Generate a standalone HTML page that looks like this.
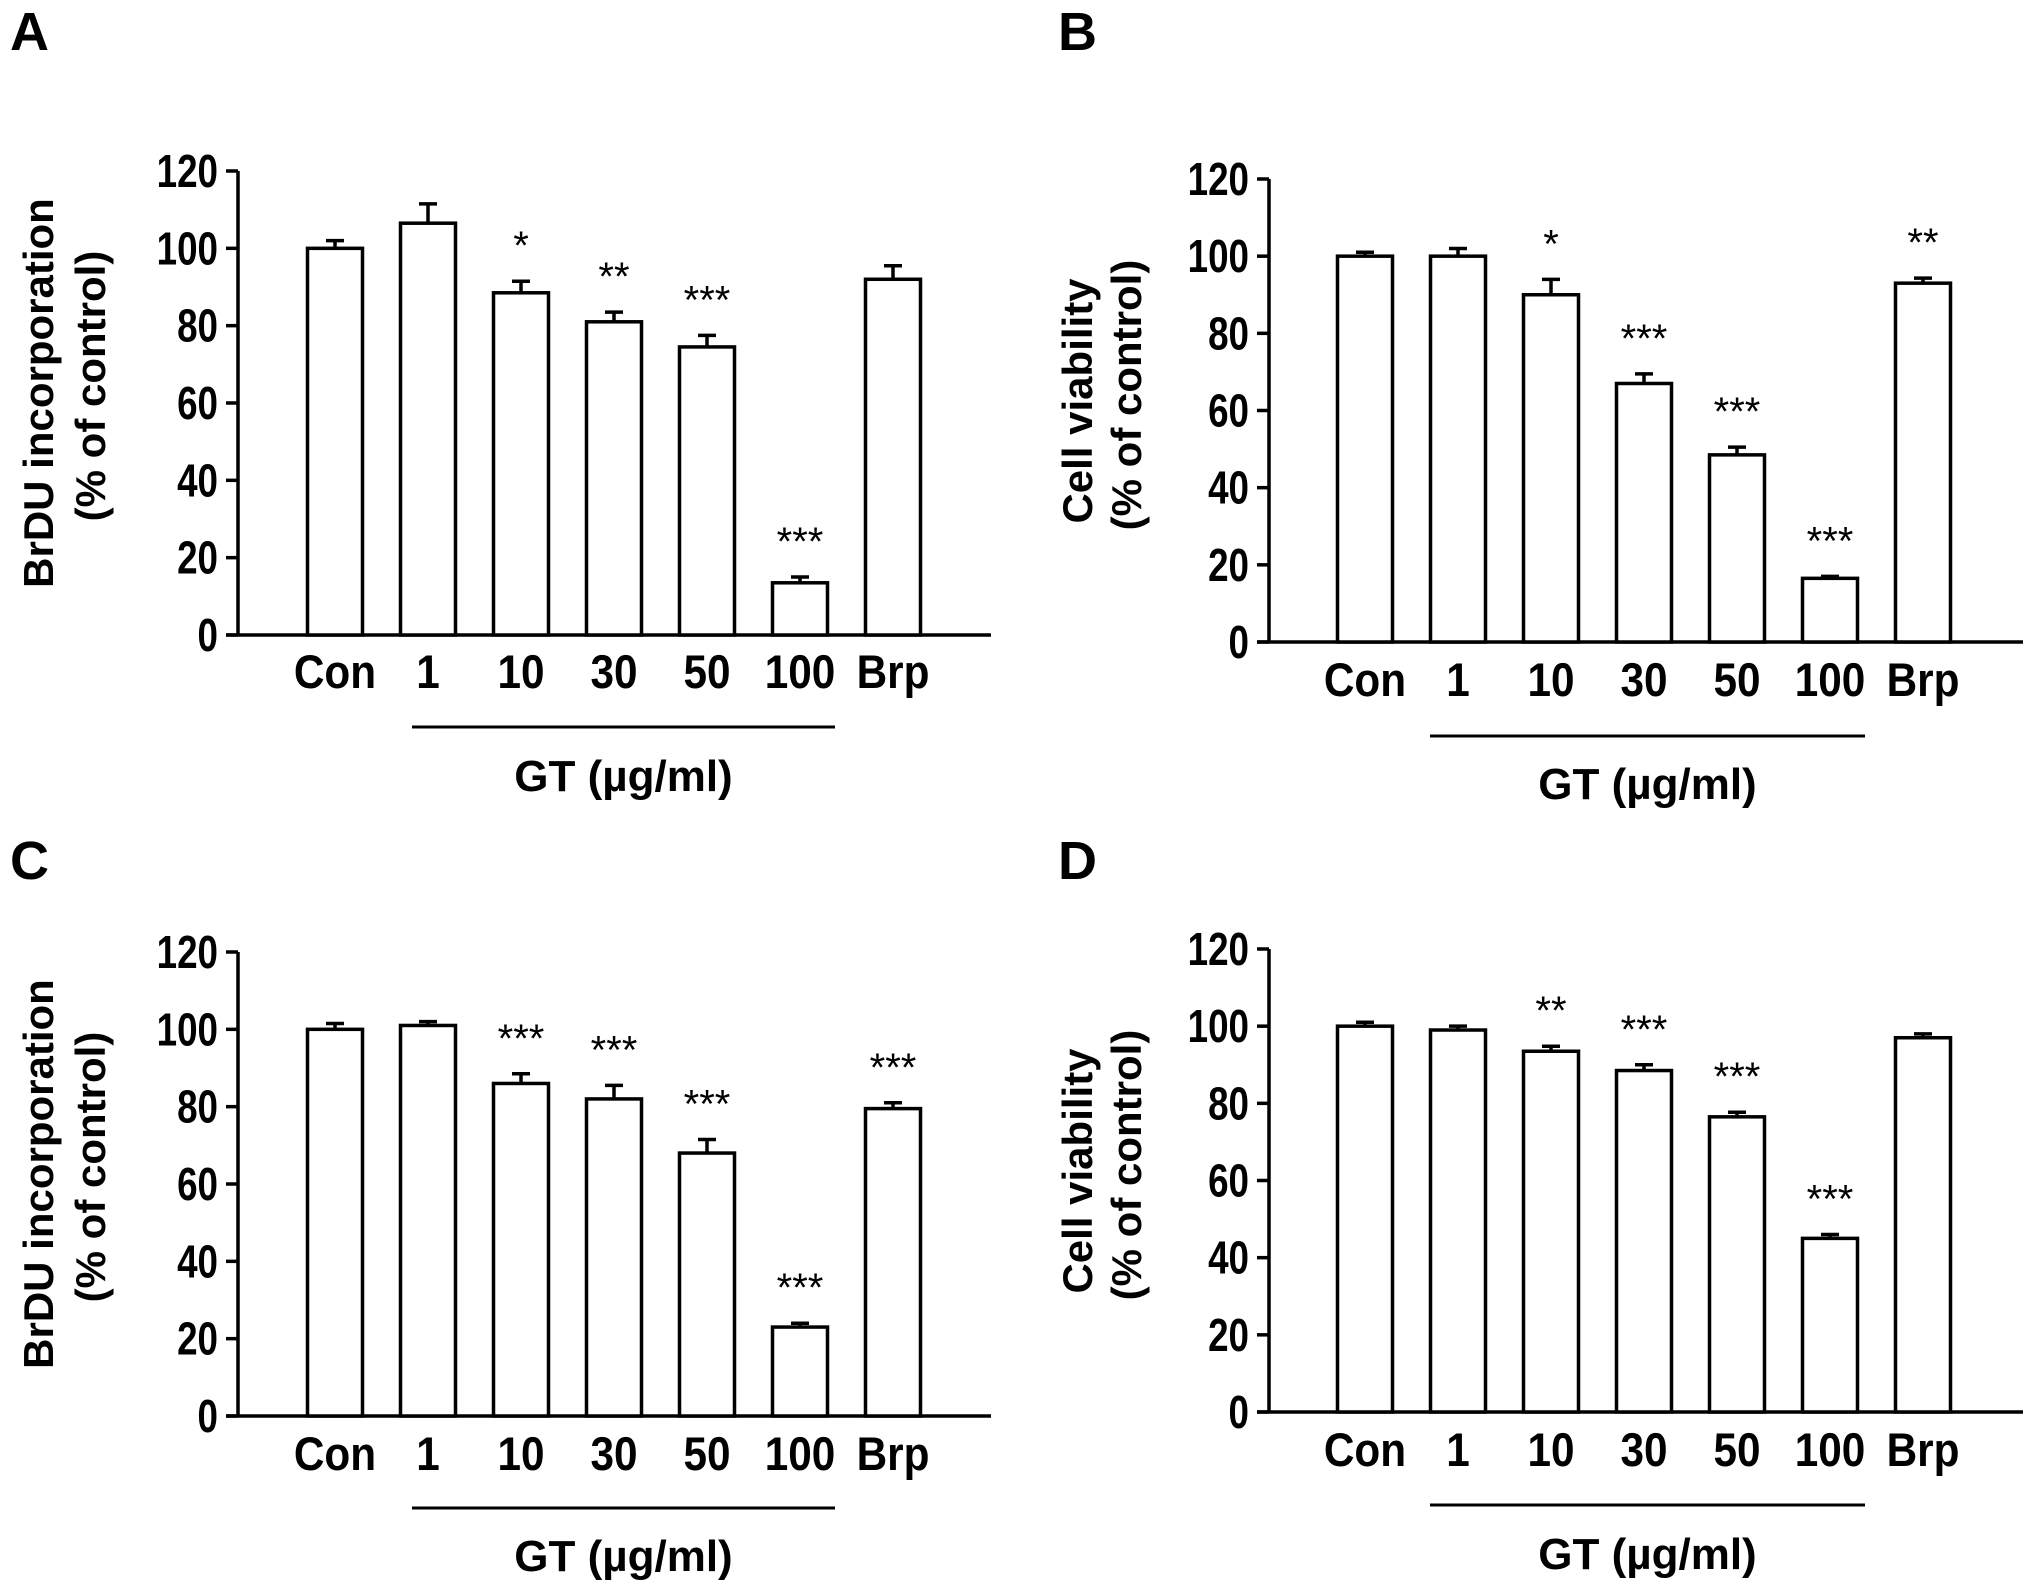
<!DOCTYPE html>
<html><head><meta charset="utf-8"><style>
html,body{margin:0;padding:0;background:#fff;}
svg{display:block;}
text{font-family:"Liberation Sans",Arial,sans-serif;fill:#000;}
</style></head><body>
<svg id="fig" width="2031" height="1593" viewBox="0 0 2031 1593"></svg>
<script>
const categories = ["Con","1","10","30","50","100","Brp"];
const yTicks = [0,20,40,60,80,100,120];
const valuesA = [100,106.5,88.5,81,74.5,13.5,92];
const errorsA = [2,5,3,2.5,3,1.5,3.5];
const starsA = ["","","*","**","***","***",""];
const valuesB = [100,100,90,67,48.5,16.5,93];
const errorsB = [1,2,4,2.5,2,0.5,1.3];
const starsB = ["","","*","***","***","***","**"];
const valuesC = [100,101,86,82,68,23,79.5];
const errorsC = [1.5,1,2.5,3.5,3.5,1,1.5];
const starsC = ["","","***","***","***","***","***"];
const valuesD = [100,99,93.5,88.5,76.5,45,97];
const errorsD = [1,1,1.3,1.5,1.2,1,1];
const starsD = ["","","**","***","***","***",""];

const NS = "http://www.w3.org/2000/svg";
const svg = document.getElementById("fig");
function mk(tag, attrs, parent, txt){
  const e = document.createElementNS(NS, tag);
  for (const k in attrs) e.setAttribute(k, attrs[k]);
  if (txt !== undefined) e.textContent = txt;
  (parent||svg).appendChild(e);
  return e;
}

function panel(cfg){
  const g = mk("g", {});
  
  
  const y0 = cfg.y0, y120 = cfg.y120;
  const yScale = v => y0 - (v/120)*(y0-y120);
  const xScale = i => cfg.firstX + i*cfg.step;

  const lt = mk("text", {x:cfg.lx, y:cfg.ly, "font-size":54, "font-weight":"bold"}, g, cfg.letter);
  
  

  const t1 = mk("text", {x:0, y:0, "font-size":42, "font-weight":"bold", "text-anchor":"middle",
    transform:`translate(${cfg.t1x},${cfg.t1y}) rotate(-90)`}, g, cfg.title1);
  
  
  const t2 = mk("text", {x:0, y:0, "font-size":42, "font-weight":"bold", "text-anchor":"middle",
    transform:`translate(${cfg.t2x},${cfg.t2y}) rotate(-90)`}, g, "(% of control)");
  
  

  const ya = mk("line", {x1:cfg.ax, y1:yScale(120), x2:cfg.ax, y2:y0+1.5, stroke:"#000","stroke-width":3.5}, g);
  
  
  const xa = mk("line", {x1:cfg.ax-12, y1:y0, x2:cfg.axEnd, y2:y0, stroke:"#000","stroke-width":3.5}, g);
  
  

  yTicks.forEach(v => {
    const y = yScale(v);
    const tk = mk("line", {x1:cfg.ax-12, y1:y, x2:cfg.ax, y2:y, stroke:"#000","stroke-width":3.5}, g);
    
    
    const tl = mk("text", {"font-size":46, "font-weight":"bold", "text-anchor":"end",
      transform:`translate(${cfg.ax-20},${y+16}) scale(0.8,1)`}, g, String(v));
    
    
  });

  const bw = 55;
  categories.forEach((c,i) => {
    const cx = xScale(i);
    const v = cfg.values[i], e = cfg.errors[i];
    const top = yScale(v), etop = yScale(v+e);
    const eb = mk("line", {x1:cx, y1:top, x2:cx, y2:etop, stroke:"#000","stroke-width":3.5}, g);
    
    
    const cap = mk("line", {x1:cx-9, y1:etop, x2:cx+9, y2:etop, stroke:"#000","stroke-width":3.5}, g);
    
    
    const r = mk("rect", {x:cx-bw/2, y:top, width:bw, height:y0-top, fill:"#fff", stroke:"#000","stroke-width":3.5}, g);
    
    
    if (cfg.stars[i]) {
      const s = mk("text", {x:cx, y:etop-22, "font-size":40, "text-anchor":"middle"}, g, cfg.stars[i]);
      
      
    }
    const cl = mk("text", {"font-size":47, "font-weight":"bold", "text-anchor":"middle",
      transform:`translate(${cx},${cfg.labY}) scale(0.9,1)`}, g, c);
    
    
  });

  const gl = mk("line", {x1:cfg.gtX1, y1:cfg.gtY, x2:cfg.gtX2, y2:cfg.gtY, stroke:"#000","stroke-width":3}, g);
  
  
  const gt = mk("text", {x:(cfg.gtX1+cfg.gtX2)/2, y:cfg.gtTextY, "font-size":44, "font-weight":"bold", "text-anchor":"middle"}, g, "GT (\u00b5g/ml)");
  
  
}

const left = {ax:238, axEnd:991, firstX:335, step:93, lx:10, gtX1:412, gtX2:835, t1x:53, t2x:105};
const right = {ax:1269, axEnd:2023, firstX:1365, step:93, lx:1058, gtX1:1430, gtX2:1865, t1x:1092, t2x:1141};

panel(Object.assign({}, left, {letter:"A", ly:50, y120:171, y0:635, labY:688, gtY:727, gtTextY:791,
  t1y:393, t2y:386, title1:"BrDU incorporation", values:valuesA, errors:errorsA, stars:starsA}));
panel(Object.assign({}, right, {letter:"B", ly:50, y120:179, y0:642, labY:696, gtY:736, gtTextY:799,
  t1y:401, t2y:395, title1:"Cell viability", values:valuesB, errors:errorsB, stars:starsB}));
panel(Object.assign({}, left, {letter:"C", ly:879, y120:952, y0:1416, labY:1470, gtY:1508, gtTextY:1571,
  t1y:1174, t2y:1167, title1:"BrDU incorporation", values:valuesC, errors:errorsC, stars:starsC}));
panel(Object.assign({}, right, {letter:"D", ly:879, y120:949, y0:1412, labY:1466, gtY:1505, gtTextY:1569,
  t1y:1171, t2y:1165, title1:"Cell viability", values:valuesD, errors:errorsD, stars:starsD}));
</script>
</body></html>
